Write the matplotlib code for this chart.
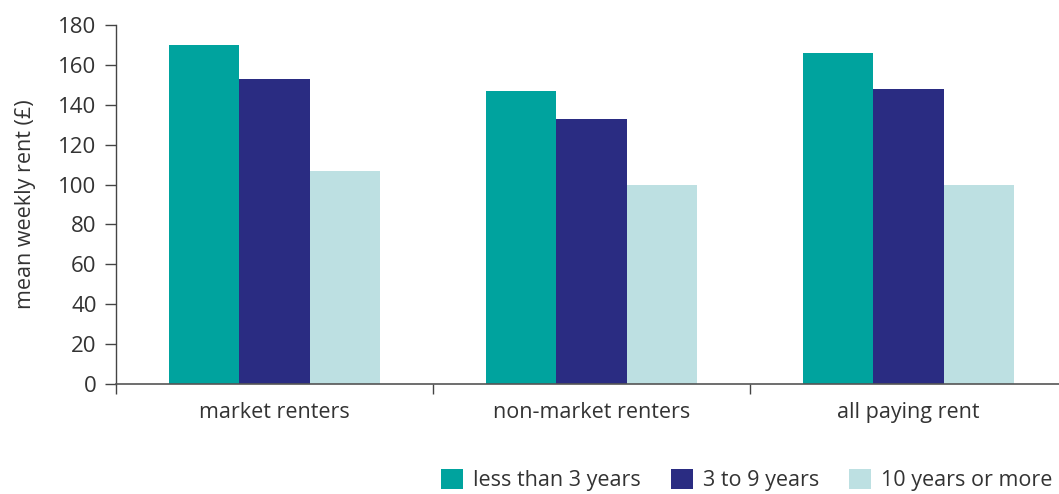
import numpy as np
import matplotlib.pyplot as plt
from matplotlib.ticker import FixedLocator

plt.rcParams['font.family'] = ['Open Sans', 'DejaVu Sans']

categories = ['market renters', 'non-market renters', 'all paying rent']
series_names = ['less than 3 years', '3 to 9 years', '10 years or more']
less_than_3 = [170, 147, 166]
three_to_9 = [153, 133, 148]
ten_or_more = [107, 100, 100]
colors = ['#00a39e', '#2a2c82', '#bde0e2']

txt = '#333333'
fig = plt.figure(figsize=(10.59, 4.94), dpi=100)
ax = fig.add_axes([116/1059, 110/494, 951/1059, 359/494])

x = np.arange(len(categories))
w = 0.222
for i, (vals, name) in enumerate(zip([less_than_3, three_to_9, ten_or_more], series_names)):
    ax.bar(x + (i - 1) * w, vals, width=w, color=colors[i], label=name, zorder=2)

ax.set_xlim(-0.5, 2.5)
ax.set_ylim(0, 180)
ax.set_yticks(range(0, 181, 20))
ax.set_xticks(x)
ax.set_xticklabels(categories)
ax.xaxis.set_minor_locator(FixedLocator([-0.5, 0.5, 1.5, 2.5]))
ax.tick_params(axis='x', which='major', length=0, pad=13, labelsize=15.5, labelcolor=txt)
ax.tick_params(axis='x', which='minor', length=7, width=1, color='#444444', direction='out')
ax.tick_params(axis='y', length=8, width=1, color='#444444', pad=6, labelsize=16, labelcolor=txt)
ax.set_ylabel('mean weekly rent (£)', fontsize=15.5, color=txt, labelpad=16)

for s in ['top', 'right']:
    ax.spines[s].set_visible(False)
ax.spines['left'].set_color('#444444')
ax.spines['bottom'].set_color('#555555')
ax.spines['left'].set_linewidth(1)
ax.spines['bottom'].set_linewidth(1.2)

handles, labels = ax.get_legend_handles_labels()
fig.legend(handles, labels, loc='lower left', bbox_to_anchor=(432/1059, -0.012),
           ncol=3, frameon=False, fontsize=15.5, labelcolor=txt,
           handlelength=1.02, handleheight=1.12, handletextpad=0.47,
           columnspacing=1.4, borderaxespad=0)

fig.savefig('out.png', dpi=100)
